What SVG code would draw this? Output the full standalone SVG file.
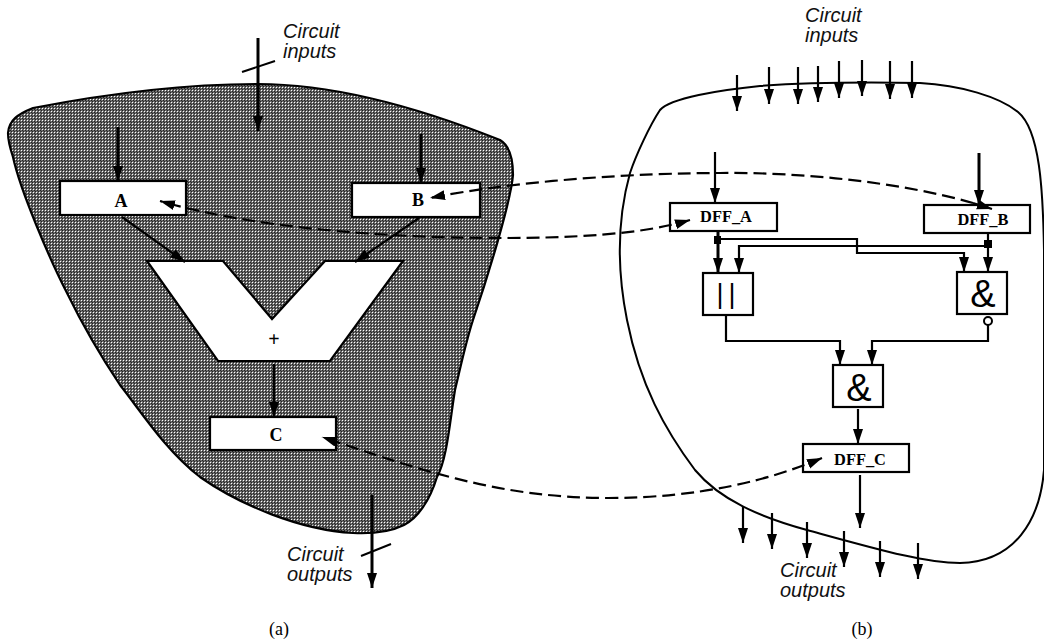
<svg xmlns="http://www.w3.org/2000/svg" width="1044" height="644" viewBox="0 0 1044 644">
<style>
.w{stroke:#000;fill:none;stroke-width:2}
.a{stroke:#000;fill:none;stroke-width:2.2;marker-end:url(#h)}
.t{stroke-width:3}
.d{stroke:#000;fill:none;stroke-width:2.2;stroke-dasharray:13 6;marker-end:url(#h)}
.e{marker-start:url(#h)}
.b{fill:#fff;stroke:#000;stroke-width:2.2}
.i{font-family:"Liberation Sans",Arial,sans-serif;font-style:italic;font-size:20px;fill:#111}
.s{font-family:"Liberation Serif","Times New Roman",serif;font-weight:bold;fill:#000}
.g{font-family:"Liberation Sans",Arial,sans-serif;fill:#000}
.c{font-family:"Liberation Serif","Times New Roman",serif;font-size:18px;fill:#000}
</style>
<defs>
<pattern id="hatch" width="3" height="3" patternUnits="userSpaceOnUse">
<rect width="3" height="3" fill="#6a6a6a"/>
<rect x="0" y="0" width="1" height="1" fill="#fff"/>
<rect x="1" y="1" width="1" height="1" fill="#222"/>
<rect x="2" y="2" width="1" height="1" fill="#222"/>
</pattern>
<marker id="h" markerUnits="userSpaceOnUse" markerWidth="18" markerHeight="12" refX="15" refY="5" orient="auto-start-reverse">
<path d="M0 0L15 5L0 10z" fill="#000"/>
</marker>
</defs>
<rect width="1044" height="644" fill="#fff"/>
<g id="region-a">
<path d="M8 133C9 120 18 114 33 108C100 95 180 84 258 84C340 84 430 112 500 140C510 146 513 160 513 175C511 200 490 270 473 320C465 345 460 370 455 390C450 420 447 460 437 477C430 500 418 518 404 525C390 532 373 534 353 533C300 530 240 505 200 477C165 450 140 410 120 385C100 355 85 330 67 293C50 260 20 190 13 157C10 148 8 140 8 133Z" fill="url(#hatch)" stroke="#000" stroke-width="2.2"/>
</g>
<g id="region-b">
<path d="M660 110C670 98 720 90 760 86C800 83 860 82 920 83C960 85 1000 97 1018 112C1040 130 1043 190 1044 250L1044 470C1040 520 1015 562 960 563C925 563 880 550 807 530C760 517 720 500 695 470C665 430 640 385 627 320C617 270 617 220 630 173C636 155 650 125 660 110Z" fill="none" stroke="#000" stroke-width="2"/>
</g>
<g id="node-A"><rect class="b" x="60" y="181" width="126" height="34"/><text class="s" font-size="18" x="121" y="207" text-anchor="middle">A</text></g>
<g id="node-B"><rect class="b" x="352" y="183" width="128" height="34"/><text class="s" font-size="18" x="418" y="206" text-anchor="middle">B</text></g>
<g id="node-adder"><path class="b" d="M147 261H223L272 319L325 261H403L330 361H218Z"/><text class="s" font-size="20" x="274" y="346" text-anchor="middle">+</text></g>
<g id="node-C"><rect class="b" x="210" y="417" width="126" height="33"/><text class="s" font-size="18" x="276" y="441" text-anchor="middle">C</text></g>
<g id="node-DFF_A"><rect class="b" x="670" y="203" width="107" height="28"/><text class="s" font-size="16.4" x="726" y="222" text-anchor="middle">DFF_A</text></g>
<g id="node-DFF_B"><rect class="b" x="924" y="205" width="106" height="28"/><text class="s" font-size="16.4" x="983" y="225" text-anchor="middle">DFF_B</text></g>
<g id="node-or"><rect class="b" x="703" y="273" width="50" height="42"/><text class="g" font-size="27" letter-spacing="5" x="716.5" y="303">||</text></g>
<g id="node-and1"><rect class="b" x="957" y="272" width="50" height="42"/><text class="g" font-size="38" x="983" y="307" text-anchor="middle">&amp;</text><circle cx="988" cy="321" r="4" fill="#fff" stroke="#000" stroke-width="2"/></g>
<g id="node-and2"><rect class="b" x="833" y="365" width="50" height="42"/><text class="g" font-size="38" x="859" y="401" text-anchor="middle">&amp;</text></g>
<g id="node-DFF_C"><rect class="b" x="803" y="444" width="106" height="28"/><text class="s" font-size="16.4" x="860" y="465" text-anchor="middle">DFF_C</text></g>
<g id="connectors">
<path class="a t" d="M258 38V131"/><path class="w" d="M242 72L275 61"/>
<path class="a t" d="M118 127V181"/><path class="a t" d="M421 134V183"/>
<path class="a" d="M122 217L185 262"/><path class="a" d="M419 218L355 262"/>
<path class="a" d="M274 364V417"/>
<path class="a t" d="M372 495V588"/><path class="w" d="M361 556L391 544"/>
<path class="a" d="M737 75V111"/><path class="a" d="M769 67V104"/><path class="a" d="M798 67V104"/><path class="a" d="M818 66V102"/><path class="a" d="M839 61V98"/><path class="a" d="M862 60V96"/><path class="a" d="M890 61V99"/><path class="a" d="M912 61V98"/>
<path class="a" d="M743 507V543"/><path class="a" d="M772 513V549"/><path class="a" d="M807 522V558"/><path class="a" d="M844 531V567"/><path class="a" d="M880 541V577"/><path class="a" d="M918 543V579"/>
<path class="a" d="M715 152V203"/><path class="a t" d="M979 153V205"/>
<path class="a t" d="M718 231V273"/><rect x="714" y="236" width="7" height="8" fill="#000"/>
<path class="a" d="M717 239H857V253H964V272"/>
<path class="a" d="M988 233V272"/><rect x="984" y="240" width="8" height="8" fill="#000"/>
<path class="a" d="M988 246H739V273"/>
<path class="a" d="M726 315V341H840V365"/>
<path class="a" d="M988 325V341H872V365"/>
<path class="a" d="M858 409V444"/><path class="a" d="M860 475V528"/>
<path class="d" d="M973 203C900 182 800 172 720 173C640 173 520 180 430 198"/>
<path class="d e" d="M690 220C640 235 570 238 500 238C400 238 260 230 160 201"/>
<path class="d e" d="M822 458C770 480 700 498 608 498C500 498 420 470 322 437"/>
<path class="a" d="M973 203L992 209"/>
</g>
<text class="i" x="283" y="38">Circuit</text><text class="i" x="283" y="58">inputs</text>
<text class="i" x="287" y="561">Circuit</text><text class="i" x="287" y="581">outputs</text>
<text class="i" x="805" y="22">Circuit</text><text class="i" x="805" y="42">inputs</text>
<text class="i" x="780" y="577">Circuit</text><text class="i" x="780" y="597">outputs</text>
<text class="c" x="279" y="635" text-anchor="middle">(a)</text>
<text class="c" x="862" y="635" text-anchor="middle">(b)</text>
</svg>
